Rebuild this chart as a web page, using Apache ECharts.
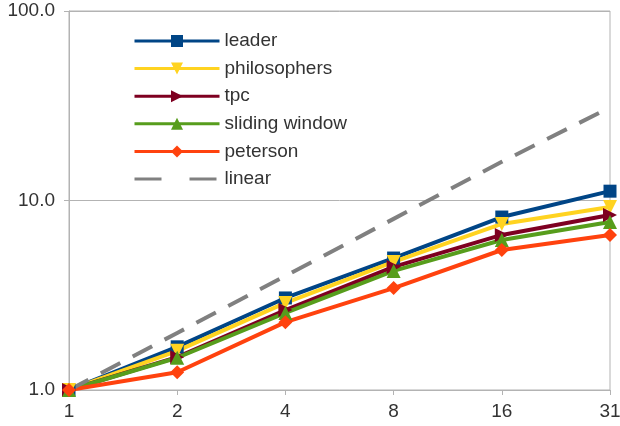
<!DOCTYPE html>
<html>
<head>
<meta charset="utf-8">
<script src="https://cdn.jsdelivr.net/npm/echarts@6/dist/echarts.min.js"></script>
<style>
  html, body { margin: 0; padding: 0; background: #fff; }
  #chart { width: 620px; height: 426px; }
</style>
</head>
<body>
<div id="chart"></div>
<script>
// Speedup per thread count (log scale)
const threads = ['1', '2', '4', '8', '16', '31'];
const leader = [1.0, 1.69, 3.06, 4.97, 8.18, 11.2];
const philosophers = [1.0, 1.61, 2.88, 4.74, 7.52, 9.24];
const tpc = [1.0, 1.49, 2.64, 4.46, 6.58, 8.38];
const slidingWindow = [1.0, 1.48, 2.55, 4.25, 6.19, 7.70];
const peterson = [1.0, 1.24, 2.28, 3.45, 5.48, 6.58];
const linear = [1, 2, 4, 8, 16, 31];

const font = 'Liberation Sans, Arial, sans-serif';

function lineSeries(name, data, color, symbol, size, rotate) {
  return {
    name: name,
    type: 'line',
    data: data,
    symbol: symbol,
    symbolSize: size,
    symbolRotate: rotate || 0,
    lineStyle: { color: color, width: 4 },
    itemStyle: { color: color },
    emphasis: { disabled: true },
    animation: false
  };
}

const chart = echarts.init(document.getElementById('chart'), null, { renderer: 'canvas' });
chart.setOption({
  backgroundColor: '#ffffff',
  animation: false,
  grid: {
    left: 69, right: 10, top: 11, bottom: 36,
    outerBoundsMode: 'none',
    containLabel: false,
    show: true, borderColor: '#b3b3b3', borderWidth: 1
  },
  legend: {
    orient: 'vertical',
    left: 133,
    top: 31,
    padding: 0,
    itemWidth: 85,
    itemHeight: 15,
    itemGap: 7.6,
    lineStyle: { width: 3 },
    textStyle: { fontFamily: font, fontSize: 19, lineHeight: 20, color: '#333333' },
    data: [
      'leader', 'philosophers', 'tpc', 'sliding window', 'peterson',
      { name: 'linear', itemStyle: { opacity: 0 }, lineStyle: { type: [27, 28], width: 3 } }
    ]
  },
  xAxis: {
    type: 'category',
    data: threads,
    boundaryGap: false,
    axisLine: { lineStyle: { color: '#b3b3b3' } },
    axisTick: { show: true, alignWithLabel: true, length: 5, lineStyle: { color: '#b3b3b3' } },
    axisLabel: { fontFamily: font, fontSize: 19, color: '#333333', margin: 12 },
    splitLine: { show: false }
  },
  yAxis: {
    type: 'log',
    logBase: 10,
    min: 1,
    max: 100,
    axisLine: { show: true, lineStyle: { color: '#b3b3b3' } },
    axisTick: { show: true, length: 5, lineStyle: { color: '#b3b3b3' } },
    axisLabel: {
      fontFamily: font, fontSize: 19, color: '#333333', margin: 14,
      formatter: v => Number(v).toFixed(1)
    },
    splitLine: { show: true, lineStyle: { color: '#b3b3b3' } },
    minorSplitLine: { show: false }
  },
  series: [
    lineSeries('leader', leader, '#004586', 'rect', 13),
    lineSeries('philosophers', philosophers, '#ffd320', 'triangle', 14, 180),
    lineSeries('tpc', tpc, '#7e0021', 'triangle', 14, -90),
    lineSeries('sliding window', slidingWindow, '#579d1c', 'triangle', 14),
    lineSeries('peterson', peterson, '#ff420e', 'diamond', 14),
    {
      name: 'linear',
      type: 'line',
      data: linear,
      symbol: 'none',
      lineStyle: { color: '#808080', width: 4, type: [22, 14] },
      itemStyle: { color: '#808080' },
      emphasis: { disabled: true },
      animation: false
    }
  ]
});
</script>
</body>
</html>
